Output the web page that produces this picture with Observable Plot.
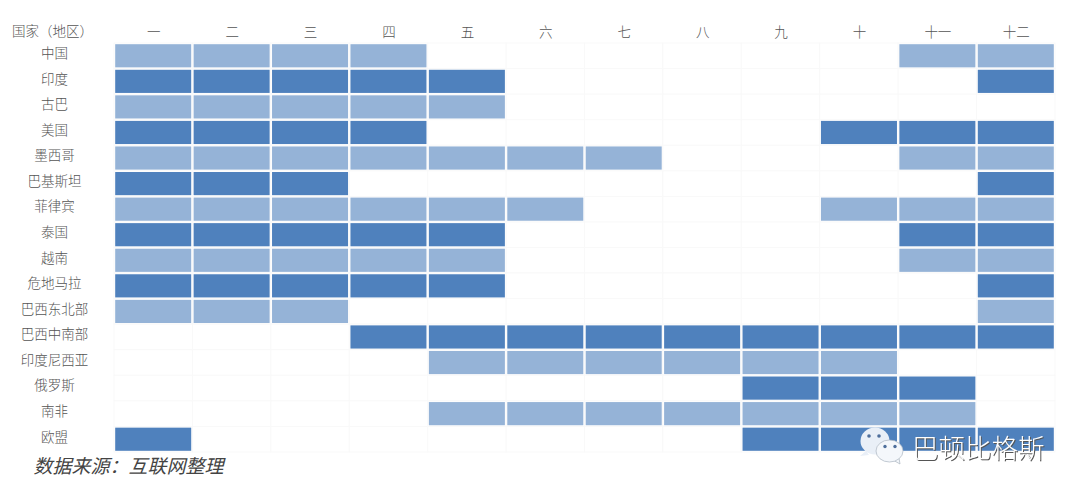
<!DOCTYPE html>
<html>
<head>
<meta charset="utf-8">
<script src="https://cdn.jsdelivr.net/npm/d3@7"></script>
<script src="https://cdn.jsdelivr.net/npm/@observablehq/plot@0.6"></script>
<style>
  html, body { margin: 0; padding: 0; background: #fff; }
  #wrap { position: relative; width: 1080px; height: 496px; overflow: hidden; }
  #wrap svg.plot { display: block; }
  #mark { position: absolute; left: 0; top: 0; pointer-events: none; }
</style>
</head>
<body>
<div id="wrap"></div>
<script>
const monthLabels = ["一","二","三","四","五","六","七","八","九","十","十一","十二"];
const regions = ["中国","印度","古巴","美国","墨西哥","巴基斯坦","菲律宾","泰国","越南","危地马拉","巴西东北部","巴西中南部","印度尼西亚","俄罗斯","南非","欧盟"];
const shades = ["浅","深","浅","深","浅","深","浅","深","浅","深","浅","深","浅","深","浅","深"];
const harvestMonths = [
  [1,2,3,4,11,12],
  [1,2,3,4,5,12],
  [1,2,3,4,5],
  [1,2,3,4,10,11,12],
  [1,2,3,4,5,6,7,11,12],
  [1,2,3,12],
  [1,2,3,4,5,6,10,11,12],
  [1,2,3,4,5,11,12],
  [1,2,3,4,5,11,12],
  [1,2,3,4,5,12],
  [1,2,3,12],
  [4,5,6,7,8,9,10,11,12],
  [5,6,7,8,9,10],
  [9,10,11],
  [5,6,7,8,9,10,11],
  [1,9,10,11,12]
];
const headerLabel = "国家（地区）";
const sourceLabel = "数据来源：互联网整理";
const brandLabel = "巴顿比格斯";

const cells = regions.flatMap((r, i) =>
  harvestMonths[i].map(m => ({region: r, month: monthLabels[m - 1], shade: shades[i]})));
const blank = regions.flatMap(r => monthLabels.map(m => ({region: r, month: m})));

const font = "'Noto Sans CJK SC', sans-serif";

const chart = Plot.plot({
  width: 1080,
  height: 496,
  marginLeft: 114,
  marginRight: 25,
  marginTop: 43,
  marginBottom: 44,
  style: {fontFamily: font, fontSize: "13.5px", color: "#555", background: "#fff"},
  x: {domain: monthLabels, padding: 0, round: false, label: null, axis: null},
  y: {domain: regions, padding: 0, round: false, label: null, axis: null},
  color: {domain: ["浅","深"], range: ["#95B3D7","#4F81BD"]},
  marks: [
    Plot.cell(blank, {x: "month", y: "region", fill: "#fff", stroke: "#f9f9f9", strokeWidth: 1}),
    Plot.cell(cells, {x: "month", y: "region", fill: "shade", inset: 1.2}),
    Plot.axisX({anchor: "top", tickSize: 0, tickPadding: 7, label: null, fontSize: 13.5, fill: "#555", fontWeight: 300}),
    Plot.axisY({anchor: "left", tickSize: 0, tickPadding: 60, dy: -2.5, textAnchor: "middle", label: null, fontSize: 13.5, fill: "#555", fontWeight: 300}),
    Plot.text([headerLabel], {frameAnchor: "top-left", dx: -62, dy: -12, textAnchor: "middle", lineAnchor: "middle", text: d => d, fontSize: 13.5, fill: "#555", fontWeight: 300}),
    Plot.text([sourceLabel], {frameAnchor: "bottom-left", dx: -81, dy: 14, textAnchor: "start", lineAnchor: "middle", text: d => d, fontSize: 19, fontStyle: "italic", fill: "#444", fontWeight: 400})
  ]
});
document.getElementById("wrap").appendChild(chart);

// Watermark overlay
const ns = "http://www.w3.org/2000/svg";
const overlay = d3.select("#wrap").append(() => document.createElementNS(ns, "svg"))
  .attr("id", "mark").attr("width", 1080).attr("height", 496);
const g = overlay.append("g");
g.append("ellipse").attr("cx", 875).attr("cy", 441).attr("rx", 14.5).attr("ry", 13.5).attr("fill", "#e9eff7");
g.append("path").attr("d", "M866 451l-6 5 9-1z").attr("fill", "#e9eff7");
g.append("circle").attr("cx", 869).attr("cy", 436).attr("r", 1.8).attr("fill", "#4F6F9C");
g.append("circle").attr("cx", 879).attr("cy", 436).attr("r", 1.8).attr("fill", "#4F6F9C");
g.append("path").attr("d", "M893 460l7 4-1-6z").attr("fill", "#f4f7fb").attr("stroke", "#aab4c0").attr("stroke-width", 0.7);
g.append("ellipse").attr("cx", 889.5).attr("cy", 451).attr("rx", 13.5).attr("ry", 11).attr("fill", "#f4f7fb").attr("stroke", "#aab4c0").attr("stroke-width", 0.7);
g.append("circle").attr("cx", 885).attr("cy", 446.5).attr("r", 1.7).attr("fill", "#4F6F9C");
g.append("circle").attr("cx", 895).attr("cy", 446.5).attr("r", 1.7).attr("fill", "#4F6F9C");
overlay.append("text").attr("x", 912).attr("y", 458)
  .attr("font-family", font).attr("font-size", 26.5).attr("font-weight", 300)
  .attr("fill", "#fff")
  .style("filter", "drop-shadow(1px 1px 0.6px #555)")
  .text(brandLabel);
</script>
</body>
</html>
